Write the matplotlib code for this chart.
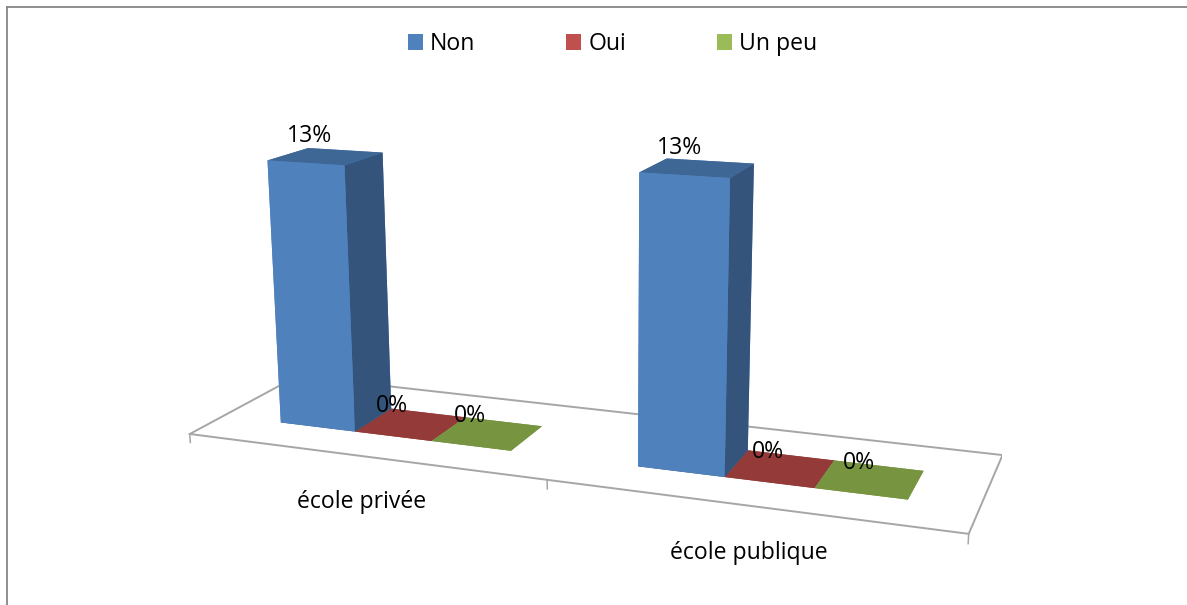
import numpy as np
import matplotlib
matplotlib.use("Agg")
import matplotlib.pyplot as plt
from matplotlib.lines import Line2D
from matplotlib.patches import Patch

plt.rcParams['font.family'] = ['Open Sans', 'DejaVu Sans']

categories = ["école privée", "école publique"]
series_names = ["Non", "Oui", "Un peu"]
non = [12.76, 13.27]
oui = [0, 0]
un_peu = [0, 0]
series_values = [non, oui, un_peu]

W, H = 1187, 605
FS = 16.6
legend_colors = ["#4F81BD", "#C0504D", "#9BBB59"]
front_colors = ["#4F81BD", "#943A38", "#779440"]
side_colors = ["#34547C", "#943A38", "#779440"]
top_colors = ["#3F6795", "#943A38", "#779440"]
frame_gray = "#868686"
axis_gray = "#A6A6A6"

# camera and bar layout of the 3-D scene
ELEV, AZIM, ROLL = 14.66784, -69.35438, 0.19965
FOCAL = np.exp(-0.98019)
BOX = (np.exp(1.06208), np.exp(-0.22026), 1.0)
AXES_PX = (150.09, -101.37, 851.52)      # left, top, side of the square 3-D axes
GAP, BAR_W, Y_FRONT, Y_BACK = 0.17382, 0.22067, 0.29648, 0.67073
Z_TOP = 15 * 13 / 15.5

fig = plt.figure(figsize=(W/100, H/100), dpi=100, facecolor="white")
left, top, side = AXES_PX
ax = fig.add_axes([left/W, 1-(top+side)/H, side/W, side/H], projection='3d')
ax.view_init(elev=ELEV, azim=AZIM, roll=ROLL)
ax.set_proj_type('persp', focal_length=float(FOCAL))
ax.set_box_aspect(BOX, zoom=1)
ax.set_xlim(0, 2, view_margin=0)
ax.set_ylim(0, 1, view_margin=0)
ax.set_zlim(0, Z_TOP, view_margin=0)
ax.set_axis_off()
ax.patch.set_visible(False)
ax.computed_zorder = False

# floor outline and ticks
ax.plot([0, 2, 2, 0, 0], [0, 0, 1, 1, 0], [0, 0, 0, 0, 0], color=axis_gray, lw=1.4, zorder=1, solid_joinstyle='miter')
for t in range(len(categories)+1):
    ax.plot([t, t], [0, 0], [0, -0.42], color=axis_gray, lw=1.1, zorder=1)

# bars
for j, vals in enumerate(series_values):
    for i, v in enumerate(vals):
        faces = [front_colors[j]]*6
        faces[0] = side_colors[j]
        faces[1] = top_colors[j]
        faces[2] = front_colors[j]
        faces[5] = side_colors[j]
        ax.bar3d(i + GAP + j*BAR_W, Y_FRONT, 0, BAR_W, Y_BACK-Y_FRONT, v,
                 color=faces, shade=False, linewidth=0, zorder=3 if v > 0 else 2)

def px_text(x, y, s, **kw):
    fig.text(x/W, 1-y/H, s, ha='center', va='center', fontsize=FS, color="black", **kw)

# data labels
label_pos = [[(310, 136), (680, 148)], [(392, 406), (768, 452)], [(470, 416), (859, 463)]]
for j, vals in enumerate(series_values):
    for i, v in enumerate(vals):
        px_text(*label_pos[j][i], f"{v:.0f}%")

# category labels
for name, pos in zip(categories, [(361.5, 502), (748.5, 553)]):
    px_text(*pos, name)

# legend
em = FS * 100 / 72
handles = [Patch(facecolor=c, edgecolor='none', label=n) for c, n in zip(legend_colors, series_names)]
fig.legend(handles=handles, ncol=3, frameon=False, fontsize=FS, loc='center left',
           bbox_to_anchor=(408/W, 1-44/H), borderaxespad=0, borderpad=0,
           handlelength=15/em, handleheight=15/em, handletextpad=7/em, columnspacing=91/em)

# chart frame: only the top and left edges are visible
fig.add_artist(Line2D([6.5/W, 6.5/W], [0, 1-6.5/H], color=frame_gray, lw=1.3))
fig.add_artist(Line2D([6.5/W, 1], [1-6.5/H, 1-6.5/H], color=frame_gray, lw=1.3))

fig.savefig("out.png", dpi=100)
